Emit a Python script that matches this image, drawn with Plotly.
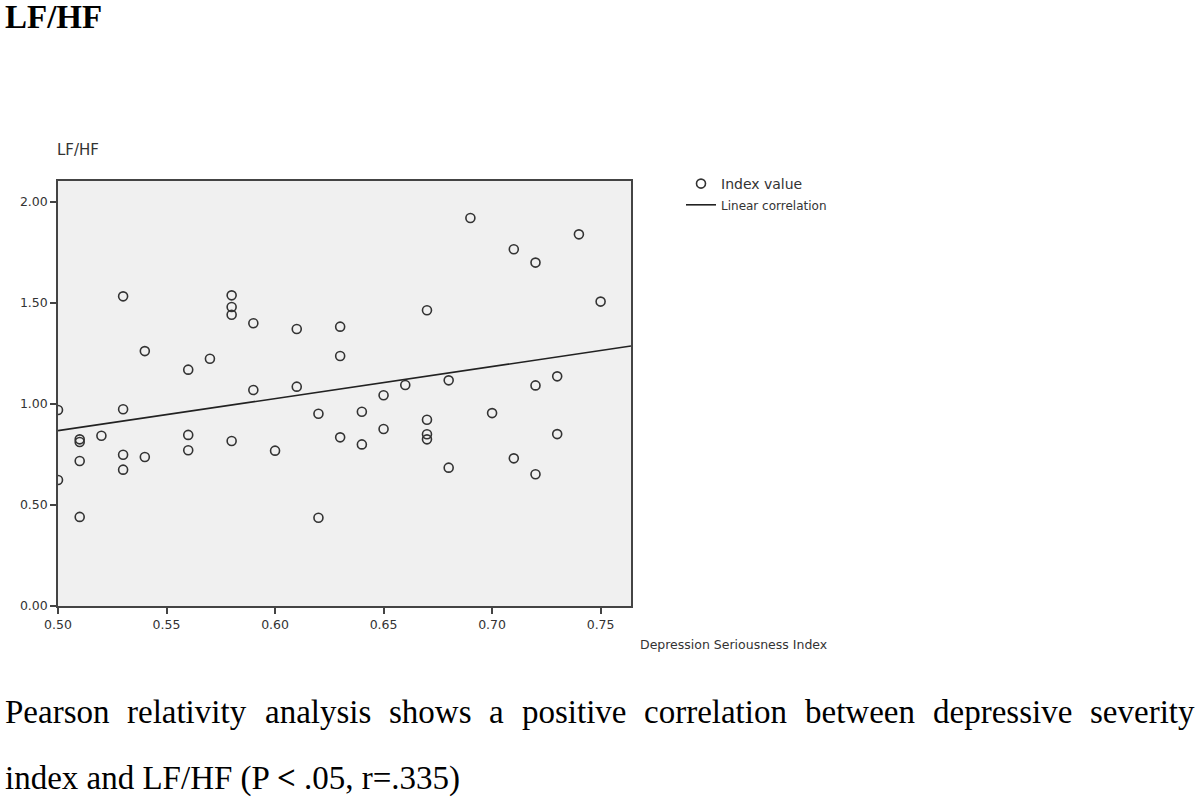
import numpy as np
import plotly.graph_objects as go

# ---- data ----
depression_index = [
    0.50, 0.50,
    0.51, 0.51, 0.51, 0.51,
    0.52,
    0.53, 0.53, 0.53, 0.53,
    0.54, 0.54,
    0.56, 0.56, 0.56,
    0.57,
    0.58, 0.58, 0.58, 0.58,
    0.59, 0.59,
    0.60,
    0.61, 0.61,
    0.62, 0.62,
    0.63, 0.63, 0.63,
    0.64, 0.64,
    0.65, 0.65,
    0.66,
    0.67, 0.67, 0.67, 0.67,
    0.68, 0.68,
    0.69,
    0.70,
    0.71, 0.71,
    0.72, 0.72, 0.72,
    0.73, 0.73,
    0.74,
    0.75,
]
lf_hf = [
    0.970, 0.624,
    0.825, 0.812, 0.718, 0.441,
    0.843,
    1.533, 0.974, 0.749, 0.675,
    1.262, 0.738,
    1.170, 0.847, 0.771,
    1.224,
    1.538, 1.480, 1.442, 0.817,
    1.400, 1.069,
    0.769,
    1.371, 1.086,
    0.952, 0.437,
    1.383, 1.238, 0.835,
    0.962, 0.800,
    1.043, 0.876,
    1.094,
    1.464, 0.922, 0.850, 0.825,
    1.117, 0.685,
    1.921,
    0.955,
    1.766, 0.731,
    1.700, 1.092, 0.652,
    1.137, 0.851,
    1.840,
    1.507,
]
x_range = [0.50, 0.764]
y_range = [0.0, 2.104]
y_ticks = [0.0, 0.5, 1.0, 1.5, 2.0]
y_tick_labels = ["0.00", "0.50", "1.00", "1.50", "2.00"]
x_ticks = [0.50, 0.55, 0.60, 0.65, 0.70, 0.75]
x_tick_labels = ["0.50", "0.55", "0.60", "0.65", "0.70", "0.75"]

caption_line1 = ["Pearson", "relativity", "analysis", "shows", "a", "positive",
                 "correlation", "between", "depressive", "severity"]
caption_line2 = "index and LF/HF (P <b>&lt;</b> .05, r=.335)"

# ---- linear fit ----
slope, intercept = np.polyfit(depression_index, lf_hf, 1)
fit_x = np.array(x_range)
fit_y = intercept + slope * fit_x

# ---- layout geometry (pixels) ----
W, H = 1200, 803
L, R, T, B = 58, 631, 181, 606
pw, ph = R - L, B - T


def px_x(p):
    return (p - L) / pw


def px_y(p):
    return (B - p) / ph


SANS = "DejaVu Sans"
SERIF = "Liberation Serif, Times New Roman, serif"
DARK = "#333333"

fig = go.Figure()
fig.add_trace(go.Scatter(
    x=depression_index, y=lf_hf, mode="markers", name="Index value",
    marker=dict(symbol="circle-open", size=9, color=DARK, line=dict(width=1.6, color=DARK)),
))
fig.add_trace(go.Scatter(
    x=fit_x, y=fit_y, mode="lines",
    name="<span style='font-size:12px'>Linear correlation</span>",
    line=dict(color="#222222", width=1.6),
))

annotations = []
# bold heading
annotations.append(dict(text="<b>LF/HF</b>", x=px_x(3), y=px_y(17), xref="paper", yref="paper",
                        xanchor="left", yanchor="middle", showarrow=False,
                        font=dict(family=SERIF, size=33, color="black")))
# y-axis title
annotations.append(dict(text="LF/HF", x=px_x(55), y=px_y(150), xref="paper", yref="paper",
                        xanchor="left", yanchor="middle", showarrow=False,
                        font=dict(family=SANS, size=15, color=DARK)))
# x-axis title
annotations.append(dict(text="Depression Seriousness Index", x=px_x(638), y=px_y(644),
                        xref="paper", yref="paper", xanchor="left", yanchor="middle",
                        showarrow=False, font=dict(family=SANS, size=12.5, color=DARK)))
# caption, line 1 justified word by word
word_x = [5, 127.4, 264.5, 388.7, 489.1, 521.7, 644.1, 805.0, 932.9, 1090.1]
for w, xp in zip(caption_line1, word_x):
    annotations.append(dict(text=w, x=px_x(xp - 2), y=px_y(712), xref="paper", yref="paper",
                            xanchor="left", yanchor="middle", showarrow=False,
                            font=dict(family=SERIF, size=33, color="black")))
annotations.append(dict(text=caption_line2, x=px_x(3), y=px_y(778), xref="paper", yref="paper",
                        xanchor="left", yanchor="middle", showarrow=False,
                        font=dict(family=SERIF, size=33, color="black")))

fig.update_layout(
    width=W, height=H,
    margin=dict(l=L, r=W - R, t=T, b=H - B, pad=0),
    paper_bgcolor="white",
    plot_bgcolor="#f0f0f0",
    showlegend=True,
    legend=dict(x=px_x(681), y=px_y(168), xanchor="left", yanchor="top",
                font=dict(family=SANS, size=14, color=DARK),
                bgcolor="rgba(0,0,0,0)", itemwidth=30, tracegroupgap=0),
    annotations=annotations,
    xaxis=dict(range=x_range, tickvals=x_ticks, ticktext=x_tick_labels,
               showgrid=False, zeroline=False, showline=True, mirror=True,
               linecolor="#444444", linewidth=1.5, ticks="outside", ticklen=6,
               tickcolor="#444444", tickwidth=1.5,
               tickfont=dict(family=SANS, size=12.5, color=DARK)),
    yaxis=dict(range=y_range, tickvals=y_ticks, ticktext=y_tick_labels,
               showgrid=False, zeroline=False, showline=True, mirror=True,
               linecolor="#444444", linewidth=1.5, ticks="outside", ticklen=6,
               tickcolor="#444444", tickwidth=1.5,
               tickfont=dict(family=SANS, size=12.5, color=DARK)),
)

# remove the page's default body margin so the figure sits at the window's corner
fig.write_html("out.html",
               config={"displayModeBar": False},
               post_script="document.body.style.margin='0';document.body.style.overflow='hidden';")
